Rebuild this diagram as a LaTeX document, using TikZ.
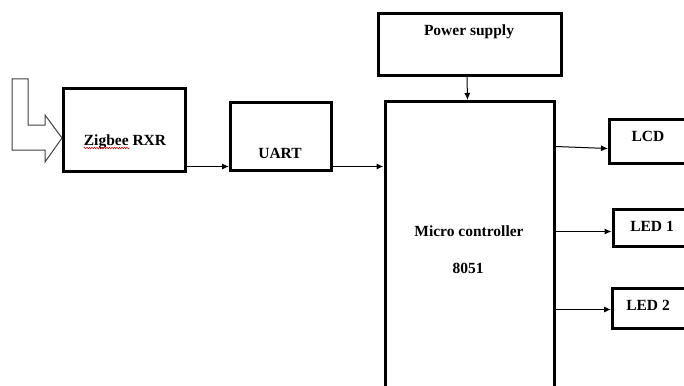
\documentclass[tikz,border=0pt]{standalone}
\usepackage{fontspec}
\setmainfont{Liberation Serif}
\usetikzlibrary{arrows.meta,decorations.pathmorphing}
\begin{document}
\begin{tikzpicture}[x=1pt,y=-1pt,
  blk/.style={draw=black,line width=3pt,rectangle,inner sep=0pt,fill=white},
  lbl/.style={inner sep=0pt,anchor=base,font=\fontsize{15.5}{18}\selectfont\bfseries},
  arr/.style={line width=1pt,-{Latex[length=7pt,width=6pt]}}]
\useasboundingbox (0,0) rectangle (684,385);
\clip (0,0) rectangle (684,385);
\fill[white] (0,0) rectangle (684,385);
% boxes
\node[blk,minimum width=122pt,minimum height=83pt] (zig) at (124.5,130) {};
\node[blk,minimum width=101pt,minimum height=68pt] (uart) at (281,136.5) {};
\node[blk,minimum width=183pt,minimum height=62pt] (pow) at (470,44.5) {};
\node[blk,minimum width=169pt,minimum height=300pt] (mc) at (469.5,251.5) {};
\node[blk,minimum width=100pt,minimum height=44pt] (lcd) at (659.5,141.5) {};
\node[blk,minimum width=100pt,minimum height=37pt] (led1) at (663,228) {};
\node[blk,minimum width=100pt,minimum height=40pt] (led2) at (662.5,308.5) {};
% labels
\node[lbl] (tzig) at (125,145) {Zigbee RXR};
\node[lbl] (tuart) at (280,158) {UART};
\node[lbl] (tpow) at (469,36) {Power supply};
\node[lbl] (tmc) at (469,236) {Micro controller};
\node[lbl] (tmc2) at (468,273) {8051};
\node[lbl] (tlcd) at (648,141) {LCD};
\node[lbl] (tled1) at (652,231) {LED 1};
\node[lbl] (tled2) at (648,310) {LED 2};
% spell-check squiggle
\draw[red!85!black,line width=0.5pt,decorate,decoration={snake,amplitude=0.8pt,segment length=2.5pt}]
  ([yshift=-3pt]tzig.base west) -- ([yshift=-3pt,xshift=46pt]tzig.base west);
% hollow input arrow
\draw[line width=1pt,draw=black!75] (12,79) -- (28,79) -- (28,125) -- (45,125) -- (45,115)
  -- (zig.west |- 0,138) -- (45,162) -- (45,150) -- (12,150) -- cycle;
% connectors
\draw[arr] ([yshift=6.5pt]zig.south east) -- ([yshift=6.5pt]zig.south east -| uart.west);
\draw[arr] ([yshift=5.5pt]uart.south east) -- ([yshift=5.5pt]uart.south east -| mc.west);
\draw[arr] ([xshift=-3pt]pow.south) -- ([xshift=-2pt]mc.north);
\draw[arr] ([yshift=-46.5pt]mc.north east) -- ([yshift=-30.5pt]lcd.north west);
\draw[arr] ([yshift=-131.5pt]mc.north east) -- ([yshift=-131.5pt]mc.north east -| led1.west);
\draw[arr] ([yshift=-209.5pt]mc.north east) -- ([yshift=-209.5pt]mc.north east -| led2.west);
\end{tikzpicture}
\end{document}
